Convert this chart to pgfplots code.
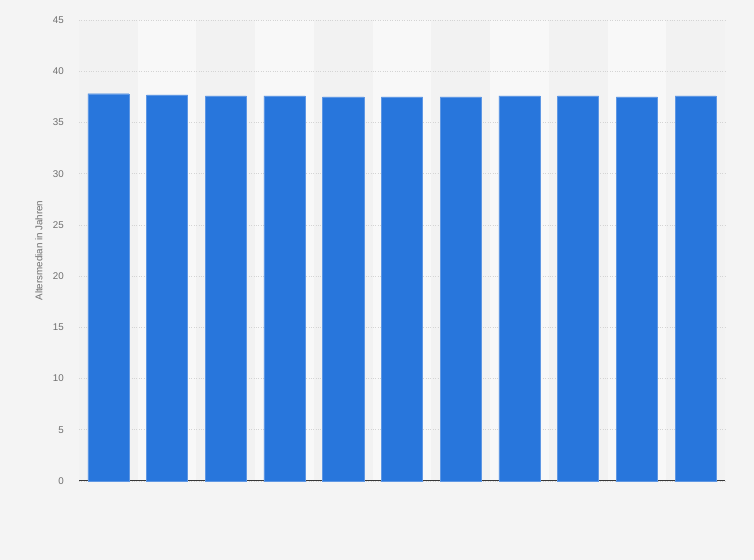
\documentclass[border=0pt]{standalone}
\usepackage{pgfplots}
\pgfplotsset{compat=1.18}
\usepackage{fontspec}
\setmainfont{Liberation Sans}

\definecolor{bg}{HTML}{F4F4F4}
\definecolor{bandlight}{HTML}{F8F8F8}
\definecolor{banddark}{HTML}{F2F2F2}
\definecolor{barblue}{HTML}{2876DC}
\definecolor{baredge}{HTML}{5E97E4}
\definecolor{ticktext}{HTML}{6E6E6E}
\definecolor{gridgray}{HTML}{D4D4D4}

\pgfplotstableread{
x  median
0  37.8
1  37.7
2  37.6
3  37.6
4  37.5
5  37.5
6  37.5
7  37.6
8  37.6
9  37.5
10 37.6
}\agedata

\begin{document}
\begin{tikzpicture}
\begin{axis}[
    set layers=standard,
    clip=false,
    scale only axis,
    width=646bp, height=461bp,
    xmin=-0.5, xmax=10.5,
    ymin=0, ymax=45,
    ytick={0,5,...,45},
    xtick=\empty,
    axis lines*=left,
    y axis line style={draw=none},
    x axis line style={draw=black!78, line width=1pt},
    major tick length=0pt,
    ymajorgrids,
    grid style={gridgray, dotted, line width=0.6pt},
    tick label style={font=\fontsize{9.8}{11}\selectfont, text=ticktext},
    /pgf/number format/assume math mode=true,
    yticklabel style={inner sep=0pt, xshift=-15bp},
    ylabel={Altersmedian in Jahren},
    every axis y label/.style={at={([xshift=-40bp]axis description cs:0,0.5)},
        rotate=90, anchor=center, font=\fontsize{9.8}{11}\selectfont, text=ticktext},
    ybar, bar width=0.7,
]
\begin{pgfonlayer}{axis background}
  % page background: 754 x 560 around the 646 x 461 plot area
  \fill[bg] ([xshift=-79bp,yshift=-79bp]rel axis cs:0,0)
     rectangle ([xshift=29bp,yshift=20bp]rel axis cs:1,1);
  \pgfplotsinvokeforeach{0,2,4,6,8,10}{
    \fill[banddark] (axis cs:#1-0.5,0) rectangle (axis cs:#1+0.5,45);
  }
  \pgfplotsinvokeforeach{1,3,5,7,9}{
    \fill[bandlight] (axis cs:#1-0.5,0) rectangle (axis cs:#1+0.5,45);
  }
\end{pgfonlayer}
\addplot[fill=barblue, draw=baredge, line width=0.5pt] table[x=x, y=median] {\agedata};
\end{axis}
\end{tikzpicture}
\end{document}
